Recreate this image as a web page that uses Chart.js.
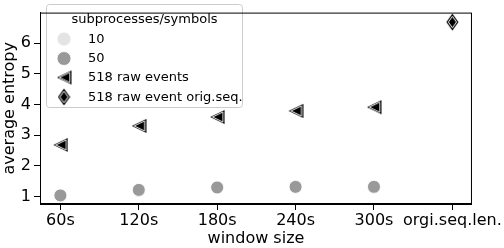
<!DOCTYPE html>
<html>
<head>
<meta charset="utf-8">
<script src="https://cdn.jsdelivr.net/npm/chart.js@4/dist/chart.umd.min.js"></script>
<style>
  html, body { margin: 0; padding: 0; background: #fff; }
  #wrap { width: 504px; height: 248px; }
</style>
</head>
<body>
<div id="wrap"><canvas id="miGrafica" width="504" height="248"></canvas></div>
<script>
// datos
const etiquetasVentana = ["60s", "120s", "180s", "240s", "300s", "orgi.seq.len."];
const ticksEntropia = [1, 2, 3, 4, 5, 6];
const entropia10 = [1.00, 1.18, 1.27, 1.29, 1.29];
const entropia50 = [1.03, 1.21, 1.29, 1.31, 1.31];
const eventosCrudos = [2.68, 3.30, 3.59, 3.79, 3.91];
const eventosOrigSeq = [6.69];
const posOrigSeq = 5;

// =============================
// MARCADORES
// =============================
function crearTriangulo() {
    let c = document.createElement("canvas");
    c.width = 16; c.height = 16;
    let ctx = c.getContext("2d");
    function tri(s) {
        let cx = 9.5, cy = 8;
        ctx.beginPath();
        ctx.moveTo(cx + (1 - cx) * s, cy);
        ctx.lineTo(cx + (15.5 - cx) * s, cy + (1 - cy) * s);
        ctx.lineTo(cx + (15.5 - cx) * s, cy + (15 - cy) * s);
        ctx.closePath();
    }
    ctx.fillStyle = "#000";
    tri(1); ctx.fill();
    ctx.strokeStyle = "#fff";
    ctx.lineWidth = 0.9;
    tri(0.72); ctx.stroke();
    return c;
}

function crearDiamante() {
    let c = document.createElement("canvas");
    c.width = 13; c.height = 18;
    let ctx = c.getContext("2d");
    function dia(s) {
        let cx = 6.5, cy = 9;
        ctx.beginPath();
        ctx.moveTo(cx, cy - 8.5 * s);
        ctx.lineTo(cx + 6 * s, cy);
        ctx.lineTo(cx, cy + 8.5 * s);
        ctx.lineTo(cx - 6 * s, cy);
        ctx.closePath();
    }
    ctx.fillStyle = "#000";
    dia(1); ctx.fill();
    ctx.strokeStyle = "#fff";
    ctx.lineWidth = 1;
    dia(0.68); ctx.stroke();
    return c;
}

const marcaTriangulo = crearTriangulo();
const marcaDiamante = crearDiamante();

function puntos(valores) {
    return valores.map((v, i) => ({ x: i, y: v }));
}

// =============================
// LEYENDA DENTRO DEL ÁREA
// =============================
const leyendaPlugin = {
    id: "leyendaCaja",
    afterDraw(chart) {
        let ctx = chart.ctx;
        let x0 = 46.5, y0 = 4.5, w = 196, h = 103;
        ctx.save();
        ctx.beginPath();
        ctx.roundRect(x0, y0, w, h, 3);
        ctx.fillStyle = "rgba(255,255,255,0.8)";
        ctx.fill();
        ctx.strokeStyle = "#cccccc";
        ctx.lineWidth = 1;
        ctx.stroke();

        ctx.fillStyle = "#000";
        ctx.font = "13px 'DejaVu Sans'";
        ctx.textBaseline = "middle";
        ctx.textAlign = "center";
        ctx.fillText("subprocesses/symbols", x0 + w / 2, 19.5);

        ctx.textAlign = "left";
        let filas = [39, 58.5, 77.5, 97];
        chart.data.datasets.forEach(function(ds, i) {
            let y = filas[i];
            let mx = 64;
            if (ds.pointStyle === "circle") {
                ctx.beginPath();
                ctx.arc(mx, y, 7, 0, Math.PI * 2);
                ctx.fillStyle = ds.backgroundColor;
                ctx.fill();
                ctx.strokeStyle = "rgba(255,255,255,0.9)";
                ctx.lineWidth = 1;
                ctx.stroke();
            } else {
                let img = ds.pointStyle;
                ctx.drawImage(img, mx - img.width / 2, y - img.height / 2);
            }
            ctx.fillStyle = "#000";
            ctx.fillText(ds.label, 88, y + 0.5);
        });

        // marco completo del área
        let a = chart.chartArea;
        ctx.strokeStyle = "#000";
        ctx.lineWidth = 1;
        ctx.strokeRect(a.left + 0.5, a.top + 0.5, a.right - a.left - 1, a.bottom - a.top - 1);
        ctx.restore();
    }
};

let ctx = document.getElementById("miGrafica").getContext("2d");

let grafica = new Chart(ctx, {
    type: "scatter",
    data: {
        datasets: [
            {
                label: "10",
                data: puntos(entropia10),
                order: 4,
                pointStyle: "circle",
                pointRadius: 6.5,
                backgroundColor: "#e4e4e4",
                borderColor: "rgba(255,255,255,0.9)",
                borderWidth: 1
            },
            {
                label: "50",
                data: puntos(entropia50),
                order: 3,
                pointStyle: "circle",
                pointRadius: 6.5,
                backgroundColor: "#999999",
                borderColor: "rgba(255,255,255,0.9)",
                borderWidth: 1
            },
            {
                label: "518 raw events",
                data: puntos(eventosCrudos),
                order: 2,
                pointStyle: marcaTriangulo
            },
            {
                label: "518 raw event orig.seq.",
                data: eventosOrigSeq.map(v => ({ x: posOrigSeq, y: v })),
                order: 1,
                pointStyle: marcaDiamante
            }
        ]
    },
    options: {
        responsive: false,
        animation: false,
        events: [],
        layout: { padding: { left: 0, right: 28, top: 2, bottom: 0 } },
        plugins: {
            legend: { display: false },
            tooltip: { enabled: false }
        },
        scales: {
            x: {
                type: "linear",
                min: -0.26,
                max: 5.25,
                afterBuildTicks: function(scale) {
                    scale.ticks = etiquetasVentana.map((e, i) => ({ value: i }));
                },
                afterFit: function(scale) { scale.height = 44; },
                ticks: {
                    color: "#000",
                    font: { family: "DejaVu Sans", size: 16 },
                    padding: 1,
                    maxRotation: 0,
                    autoSkip: false,
                    callback: function(v) { return etiquetasVentana[v]; }
                },
                grid: { drawOnChartArea: false, tickLength: 6, color: "#000" },
                border: { display: true, color: "#000" },
                title: {
                    display: true,
                    text: "window size",
                    color: "#000",
                    font: { family: "DejaVu Sans", size: 16 },
                    padding: { top: 0, bottom: 0 }
                }
            },
            y: {
                min: 0.75,
                max: 7.0,
                afterBuildTicks: function(scale) {
                    scale.ticks = ticksEntropia.map(v => ({ value: v }));
                },
                afterFit: function(scale) { scale.width = 40; },
                ticks: {
                    color: "#000",
                    font: { family: "DejaVu Sans", size: 16 },
                    padding: 3
                },
                grid: { drawOnChartArea: false, tickLength: 6, color: "#000" },
                border: { display: true, color: "#000" },
                title: {
                    display: true,
                    text: "average entropy",
                    color: "#000",
                    font: { family: "DejaVu Sans", size: 16 },
                    padding: { top: 0, bottom: 0 }
                }
            }
        }
    },
    plugins: [leyendaPlugin]
});
</script>
</body>
</html>
